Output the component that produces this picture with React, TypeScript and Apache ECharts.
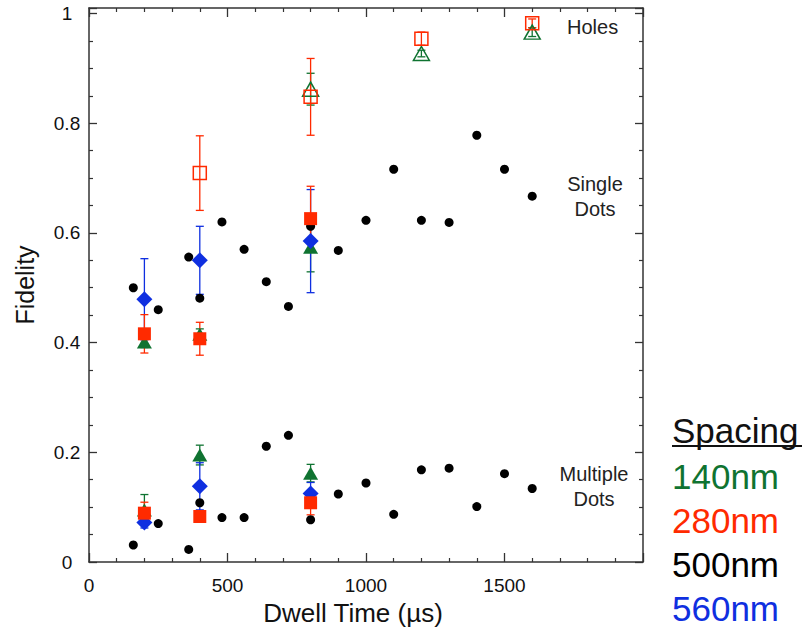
import React, { useEffect, useRef } from "react";
import * as echarts from "echarts";

// ---- data ----
const blackX = [160, 250, 360, 400, 480, 560, 640, 720, 800, 900, 1000, 1100, 1200, 1300, 1400, 1500, 1600];
const blackSingle = [0.5, 0.46, 0.556, 0.481, 0.62, 0.57, 0.511, 0.466, 0.612, 0.568, 0.623, 0.716, 0.623, 0.619, 0.778, 0.716, 0.667];
const blackMultiple = [0.031, 0.07, 0.023, 0.108, 0.081, 0.081, 0.211, 0.231, 0.077, 0.124, 0.144, 0.087, 0.168, 0.171, 0.101, 0.161, 0.134];

const dotX = [200, 400, 800];
const greenSingle = [0.401, 0.415, 0.574];
const greenSingleErr = [0.01, 0.01, 0.045];
const redSingle = [0.416, 0.407, 0.626];
const redSingleErr = [0.035, 0.03, 0.059];
const blueSingle = [0.479, 0.55, 0.585];
const blueSingleErr = [0.074, 0.062, 0.094];

const greenMultiple = [0.095, 0.195, 0.162];
const greenMultipleErr = [0.028, 0.018, 0.016];
const redMultiple = [0.089, 0.083, 0.108];
const redMultipleErr = [0.02, 0.008, 0.022];
const blueMultiple = [0.072, 0.138, 0.125];
const blueMultipleErr = [0.01, 0.043, 0.02];

const redHolesX = [400, 800, 1200, 1600];
const redHoles = [0.709, 0.848, 0.954, 0.982];
const redHolesErr = [0.068, 0.07, 0.012, 0.008];
const greenHolesX = [800, 1200, 1600];
const greenHoles = [0.862, 0.927, 0.966];
const greenHolesErr = [0.029, 0.006, 0.008];

const legendTitle = "Spacing";
const legendLabels = ["140nm", "280nm", "500nm", "560nm"];

const GREEN = "#0f7331";
const RED = "#ff2a00";
const BLACK = "#000000";
const BLUE = "#0f2fe0";
const legendColors = [GREEN, RED, BLACK, BLUE];
const FONT = "'Liberation Sans', Arial, Helvetica, sans-serif";

function pts(xs: number[], ys: number[]) {
  return xs.map((x, i) => [x, ys[i]]);
}
function errPts(xs: number[], ys: number[], es: number[]) {
  return xs.map((x, i) => [x, ys[i], es[i]]);
}

function errorSeries(xs: number[], ys: number[], es: number[], color: string) {
  return {
    type: "custom",
    data: errPts(xs, ys, es),
    encode: { x: 0, y: 1 },
    silent: true,
    renderItem: (params: any, api: any) => {
      const x = api.value(0);
      const y = api.value(1);
      const e = api.value(2);
      const top = api.coord([x, y + e]);
      const bot = api.coord([x, y - e]);
      const hw = 4;
      const style = { stroke: color, lineWidth: 1.3 };
      return {
        type: "group",
        children: [
          { type: "line", shape: { x1: top[0], y1: top[1], x2: bot[0], y2: bot[1] }, style },
          { type: "line", shape: { x1: top[0] - hw, y1: top[1], x2: top[0] + hw, y2: top[1] }, style },
          { type: "line", shape: { x1: bot[0] - hw, y1: bot[1], x2: bot[0] + hw, y2: bot[1] }, style },
        ],
      };
    },
  };
}

function scatter(name: string, data: number[][], symbol: string, size: any, color: string, open = false) {
  return {
    type: "scatter",
    name,
    data,
    symbol,
    symbolSize: size,
    itemStyle: open
      ? { color: "rgba(255,255,255,0)", borderColor: color, borderWidth: 1.5, opacity: 1 }
      : { color, opacity: 1 },
  };
}

export default function App() {
  const ref = useRef<HTMLDivElement>(null);
  useEffect(() => {
    document.body.style.margin = "0";
    const chart = echarts.init(ref.current!, null, { renderer: "svg" });
    const axisLine = { show: true, onZero: false, lineStyle: { color: "#333", width: 1.5 } };
    const tickX = { show: true, inside: true, length: 9, lineStyle: { color: "#333", width: 1.3 } };
    const minorX = { show: true, splitNumber: 5, length: 4, lineStyle: { color: "#333", width: 1.2 } };
    const tickY = { show: true, inside: true, length: 8, lineStyle: { color: "#333", width: 1.3 } };
    const minorY = { show: true, splitNumber: 4, length: 4, lineStyle: { color: "#333", width: 1.2 } };
    const option: any = {
      animation: false,
      backgroundColor: "#fff",
      grid: { left: 89, right: 163, top: 8, bottom: 72, containLabel: false },
      xAxis: [
        {
          type: "value",
          min: 0,
          max: 2000,
          interval: 500,
          position: "bottom",
          name: "Dwell Time (µs)",
          nameLocation: "middle",
          nameGap: 30,
          nameTextStyle: { fontSize: 26, color: "#111", fontFamily: FONT, padding: [0, 26, 0, 0] },
          axisLine,
          axisTick: tickX,
          minorTick: minorX,
          splitLine: { show: false },
          axisLabel: {
            fontSize: 19,
            color: "#111",
            fontFamily: FONT,
            margin: 14,
            formatter: (v: number) => (v >= 2000 ? "" : String(v)),
          },
        },
        {
          type: "value",
          min: 0,
          max: 2000,
          interval: 500,
          position: "top",
          axisLine,
          axisTick: tickX,
          minorTick: minorX,
          splitLine: { show: false },
          axisLabel: { show: false },
        },
      ],
      yAxis: [
        {
          type: "value",
          min: 0,
          max: 1.01,
          interval: 0.2,
          position: "left",
          name: "Fidelity",
          nameLocation: "middle",
          nameGap: 52,
          nameTextStyle: { fontSize: 25, color: "#111", fontFamily: FONT },
          axisLine,
          axisTick: tickY,
          minorTick: minorY,
          splitLine: { show: false },
          axisLabel: {
            fontSize: 19,
            color: "#111",
            fontFamily: FONT,
            align: "center",
            margin: 22,
            formatter: (v: number) => {
              const r = Math.round(v * 5);
              if (Math.abs(v * 5 - r) > 1e-6) return "";
              return String(r / 5);
            },
          },
        },
        {
          type: "value",
          min: 0,
          max: 1.01,
          interval: 0.2,
          position: "right",
          axisLine,
          axisTick: tickY,
          minorTick: minorY,
          splitLine: { show: false },
          axisLabel: { show: false },
        },
      ],
      series: [
        scatter("500nm single", pts(blackX, blackSingle), "circle", 9, BLACK),
        scatter("500nm multiple", pts(blackX, blackMultiple), "circle", 9, BLACK),
        errorSeries(dotX, greenSingle, greenSingleErr, GREEN),
        errorSeries(dotX, greenMultiple, greenMultipleErr, GREEN),
        scatter("140nm single", pts(dotX, greenSingle), "triangle", [15, 13], GREEN),
        scatter("140nm multiple", pts(dotX, greenMultiple), "triangle", [15, 13], GREEN),
        errorSeries(dotX, blueSingle, blueSingleErr, BLUE),
        errorSeries(dotX, blueMultiple, blueMultipleErr, BLUE),
        scatter("560nm single", pts(dotX, blueSingle), "diamond", 16, BLUE),
        scatter("560nm multiple", pts(dotX, blueMultiple), "diamond", 16, BLUE),
        errorSeries(dotX, redSingle, redSingleErr, RED),
        errorSeries(dotX, redMultiple, redMultipleErr, RED),
        scatter("280nm single", pts(dotX, redSingle), "rect", 13, RED),
        scatter("280nm multiple", pts(dotX, redMultiple), "rect", 13, RED),
        errorSeries(greenHolesX, greenHoles, greenHolesErr, GREEN),
        scatter("140nm holes", pts(greenHolesX, greenHoles), "triangle", [16, 14], GREEN, true),
        errorSeries(redHolesX, redHoles, redHolesErr, RED),
        scatter("280nm holes", pts(redHolesX, redHoles), "rect", 13, RED, true),
      ],
      graphic: [
        { type: "text", left: 567, top: 17, style: { text: "Holes", fontSize: 20, fill: "#222", fontFamily: FONT } },
        {
          type: "text",
          x: 595,
          y: 196,
          style: { text: "Single\nDots", fontSize: 20, lineHeight: 25, fill: "#222", fontFamily: FONT, align: "center", verticalAlign: "middle" },
        },
        {
          type: "text",
          x: 594,
          y: 486,
          style: { text: "Multiple\nDots", fontSize: 20, lineHeight: 25, fill: "#222", fontFamily: FONT, align: "center", verticalAlign: "middle" },
        },
        {
          type: "text",
          x: 672,
          y: 430,
          style: { text: legendTitle, fontSize: 35, fill: "#111", fontFamily: FONT, verticalAlign: "middle" },
        },
        {
          type: "line",
          shape: { x1: 672, y1: 446, x2: 802, y2: 446 },
          style: { stroke: "#111", lineWidth: 2 },
        },
        ...legendLabels.map((t, i) => ({
          type: "text",
          x: 672,
          y: 476 + i * 44,
          style: { text: t, fontSize: 35, fill: legendColors[i], fontFamily: FONT, verticalAlign: "middle" },
        })),
      ],
    };
    chart.setOption(option);
    return () => chart.dispose();
  }, []);
  return <div ref={ref} style={{ width: 806, height: 634 }} />;
}
